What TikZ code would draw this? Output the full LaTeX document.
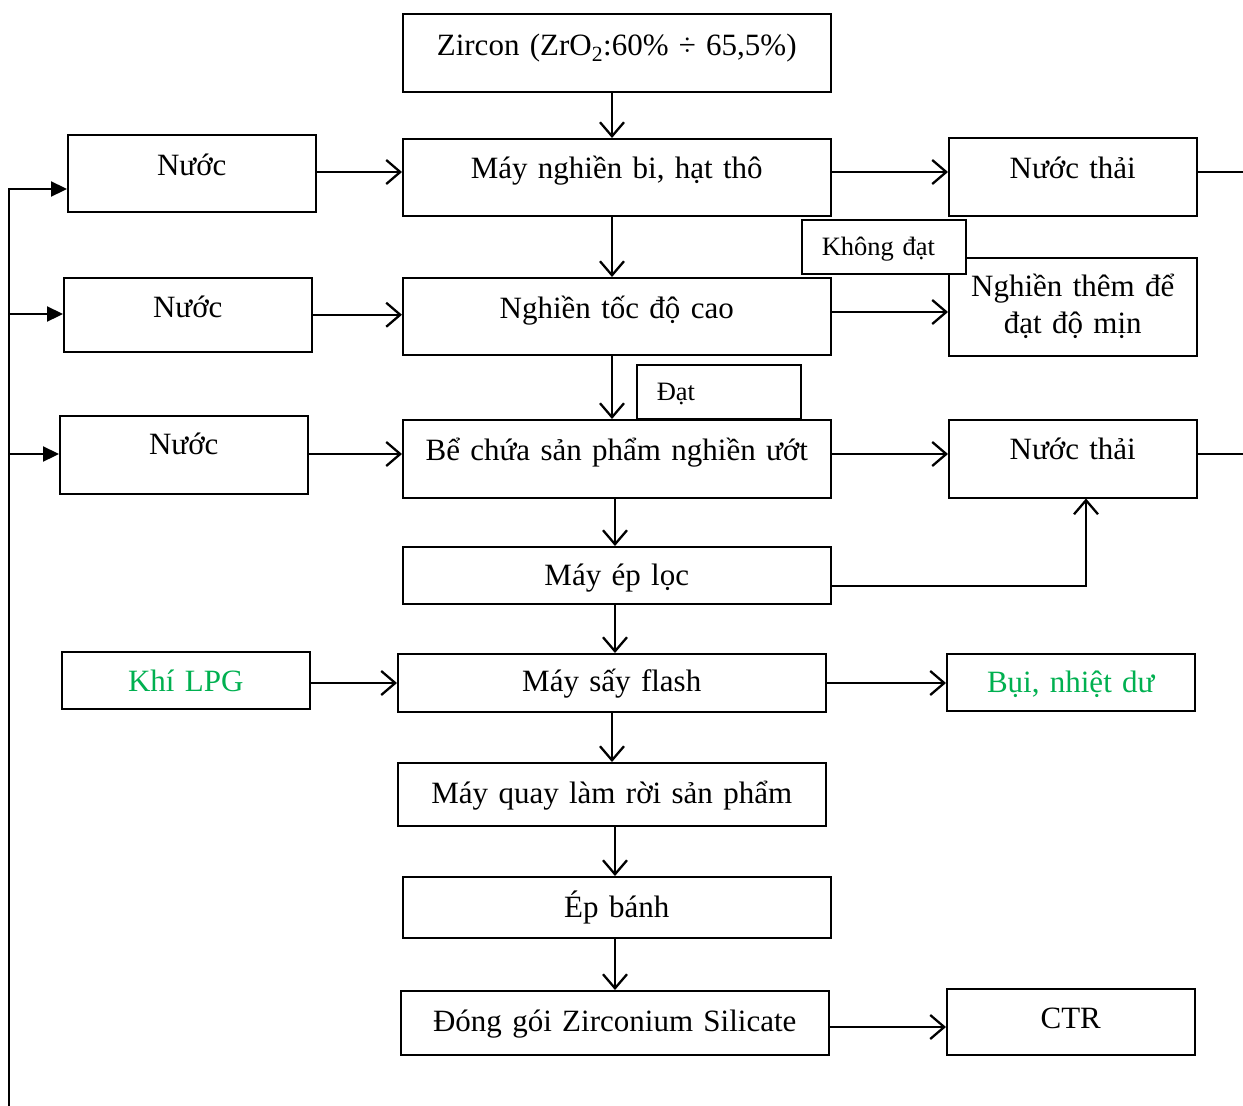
\documentclass[tikz,border=0pt]{standalone}
\usepackage{fontspec}
\setmainfont{Liberation Serif}
\usetikzlibrary{arrows.meta}
\definecolor{leaf}{RGB}{0,176,80}
\tikzset{
  box/.style={draw, line width=1.5pt, fill=white, inner xsep=0pt, inner ysep=0pt,
    align=center, anchor=north west, font=\fontsize{31}{37}\selectfont},
  tagbox/.style={box, align=left, inner xsep=20pt, font=\fontsize{26.5}{32}\selectfont},
  wire/.style={line width=2.3pt},
  arr/.style={wire, -{Straight Barb[length=14pt,width=24pt]}},
  farr/.style={wire, -{Triangle[length=16pt,width=15pt]}},
}
\begin{document}
\begin{tikzpicture}[x=1pt, y=-1pt]
\useasboundingbox (0,0) rectangle (1243,1106);

% main column
\node[box, text width=428, text height=42, text depth=36] (zircon) at (402,13) {Zircon (ZrO\textsubscript{2}:60\% ÷ 65,5\%)};
\node[box, text width=428, text height=40, text depth=37] (bi) at (402,138) {Máy nghiền bi, hạt thô};
\node[box, text width=428, text height=41, text depth=36] (ncao) at (402,277) {Nghiền tốc độ cao};
\node[box, text width=428, text height=41, text depth=37] (be) at (402,419) {Bể chứa sản phẩm nghiền ướt};
\node[box, text width=428, text height=39, text depth=18] (ep) at (402,546) {Máy ép lọc};
\node[box, text width=428, text height=38, text depth=20] (say) at (397,653) {Máy sấy flash};
\node[box, text width=428, text height=41, text depth=22] (quay) at (397,762) {Máy quay làm rời sản phẩm};
\node[box, text width=428, text height=41, text depth=20] (banh) at (402,876) {Ép bánh};
\node[box, text width=428, text height=41, text depth=23] (dong) at (400,990) {Đóng gói Zirconium Silicate};

% inputs
\node[box, text width=248, text height=41, text depth=36] (n1) at (67,134) {Nước};
\node[box, text width=248, text height=40, text depth=34] (n2) at (63,277) {Nước};
\node[box, text width=248, text height=39, text depth=39] (n3) at (59,415) {Nước};
\node[box, text width=248, text height=40, text depth=17, text=leaf] (lpg) at (61,651) {Khí LPG};

% outputs
\node[box, text width=248, text height=41, text depth=37] (nt1) at (948,137) {Nước thải};
\node[box, text width=248, text height=39, text depth=59] (them) at (948,257) {Nghiền thêm để\\đạt độ mịn};
\node[box, text width=248, text height=40, text depth=38] (nt2) at (948,419) {Nước thải};
\node[box, text width=248, text height=39, text depth=18, text=leaf] (bui) at (946,653) {Bụi, nhiệt dư};
\node[box, text width=248, text height=40, text depth=26] (ctr) at (946,988) {CTR};

% decision tags
\node[tagbox, text width=124, text height=36, text depth=18] (dat) at (636,364) {Đạt};

% helper coordinates
\coordinate (colA) at (612,0);
\coordinate (colB) at (615,0);
\coordinate (colC) at (1086,0);
\coordinate (r172) at (0,172);
\coordinate (r312) at (0,312);
\coordinate (r454) at (0,454);
\coordinate (r586) at (0,586);
\coordinate (r683) at (0,683);
\coordinate (r1027) at (0,1027);
\coordinate (out1) at (1243,172);
\coordinate (out2) at (1243,454);
\coordinate (loop0) at (9,1106);
\coordinate (j1) at (9,189);
\coordinate (j2) at (9,314);
\coordinate (j3) at (9,454);

% main flow
\draw[arr] (zircon.south -| colA) -- (bi.north -| colA);
\draw[arr] (bi.south -| colA) -- (ncao.north -| colA);
\draw[arr] (ncao.south -| colA) -- (be.north -| colA);
\draw[arr] (be.south -| colB) -- (ep.north -| colB);
\draw[arr] (ep.south -| colB) -- (say.north -| colB);
\draw[arr] (say.south -| colA) -- (quay.north -| colA);
\draw[arr] (quay.south -| colB) -- (banh.north -| colB);
\draw[arr] (banh.south -| colB) -- (dong.north -| colB);

% side flows
\draw[arr] (n1.east |- r172) -- (bi.west |- r172);
\draw[arr] (bi.east |- r172) -- (nt1.west |- r172);
\draw[wire] (nt1.east |- r172) -- (out1);
\draw[arr] (n2.east) -- (ncao.west |- n2.east);
\draw[arr] (ncao.east |- r312) -- (them.west |- r312);
\draw[arr] (n3.east |- r454) -- (be.west |- r454);
\draw[arr] (be.east |- r454) -- (nt2.west |- r454);
\draw[wire] (nt2.east |- r454) -- (out2);
\draw[arr] (ep.east |- r586) -| (nt2.south -| colC);
\draw[arr] (lpg.east |- r683) -- (say.west |- r683);
\draw[arr] (say.east |- r683) -- (bui.west |- r683);
\draw[arr] (dong.east |- r1027) -- (ctr.west |- r1027);

% water return loop
\draw[farr] (loop0) -- (j1) -- (n1.west |- j1);
\draw[farr] (j2) -- (n2.west |- j2);
\draw[farr] (j3) -- (n3.west |- j3);

% this tag sits on top of the corner of the box beside it
\node[tagbox, text width=124, text height=36, text depth=18] (khong) at (801,219) {Không đạt};
\end{tikzpicture}
\end{document}
